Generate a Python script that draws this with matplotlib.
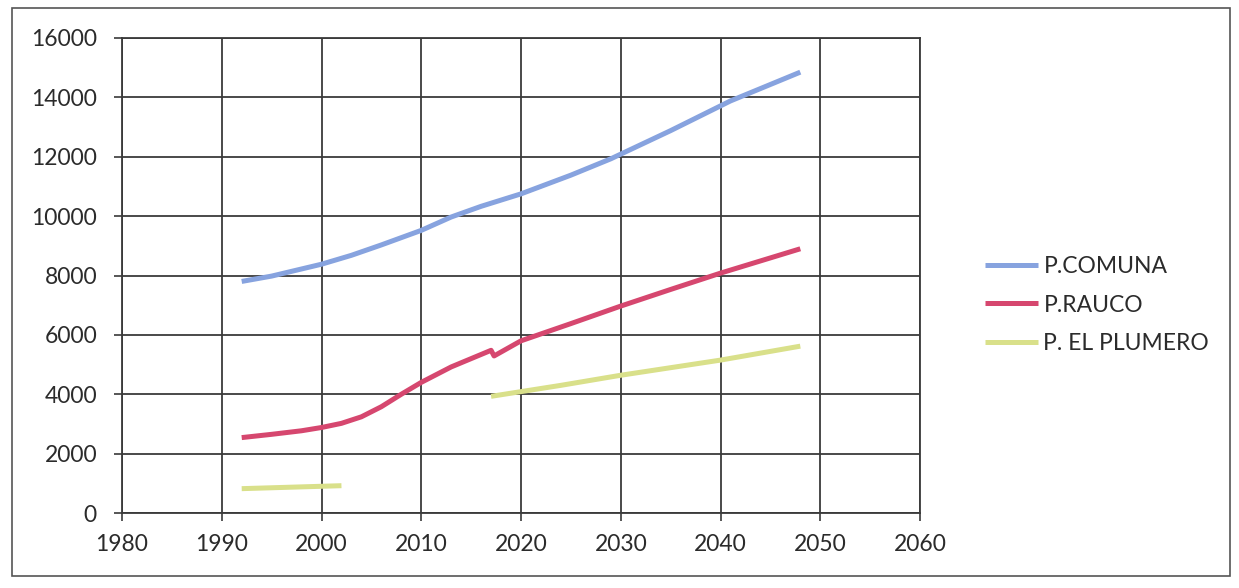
import numpy as np
import matplotlib
matplotlib.use("Agg")
import matplotlib.pyplot as plt
from matplotlib.patches import Rectangle

plt.rcParams['font.family'] = ['Lato', 'DejaVu Sans']

# --- data ---
years_comuna = [1992, 1995, 2000, 2003, 2006, 2010, 2013, 2016, 2020, 2025, 2029, 2035, 2041, 2048]
pop_comuna = [7800, 7980, 8380, 8680, 9030, 9520, 9970, 10330, 10750, 11380, 11930, 12880, 13880, 14850]

years_rauco = [1992, 1995, 1998, 2000, 2002, 2004, 2006, 2008, 2010, 2013, 2017, 2017.3,
               2020, 2025, 2030, 2035, 2040, 2048]
pop_rauco = [2540, 2650, 2770, 2880, 3020, 3240, 3580, 4000, 4400, 4920, 5480, 5290,
             5800, 6380, 6970, 7530, 8080, 8900]

years_plumero = [1992, 2002, np.nan, 2017, 2024, 2030, 2040, 2048]
pop_plumero = [820, 920, np.nan, 3930, 4300, 4640, 5150, 5620]

series_labels = ['P.COMUNA', 'P.RAUCO', 'P. EL PLUMERO']
series_colors = ['#87a3df', '#d6476f', '#d9e08a']

x_ticks = [1980, 1990, 2000, 2010, 2020, 2030, 2040, 2050, 2060]
y_ticks = [0, 2000, 4000, 6000, 8000, 10000, 12000, 14000, 16000]

W, H = 1239, 588
fig = plt.figure(figsize=(W / 100, H / 100), dpi=100)
fig.patch.set_facecolor('white')

# outer chart border
fig.patches.append(Rectangle((12 / W, 1 - 576 / H), (1230 - 12) / W, (576 - 8) / H,
                             transform=fig.transFigure, fill=False,
                             edgecolor='#555555', linewidth=1.2))

ax = fig.add_axes([122 / W, 1 - 513 / H, (920 - 122) / W, (513 - 38) / H])

grid_color = '#3a3a3a'
ax.set_xlim(1980, 2060)
ax.set_ylim(0, 16000)
ax.set_xticks(x_ticks)
ax.set_yticks(y_ticks)
ax.grid(True, color=grid_color, linewidth=1.3)
ax.set_axisbelow(True)
for s in ax.spines.values():
    s.set_color(grid_color)
    s.set_linewidth(1.3)
ax.tick_params(axis='both', direction='out', length=6, width=1.2, color=grid_color,
               labelsize=16.5, labelcolor='#2b2b2b')
ax.tick_params(axis='x', pad=9)
ax.tick_params(axis='y', pad=12)

for xs, ys, lab, col in zip([years_comuna, years_rauco, years_plumero],
                            [pop_comuna, pop_rauco, pop_plumero],
                            series_labels, series_colors):
    ax.plot(xs, ys, color=col, linewidth=3.6, label=lab,
            solid_joinstyle='round', solid_capstyle='butt')

leg = ax.legend(loc='center left', bbox_to_anchor=(985 / W, 1 - 305 / H),
                bbox_transform=fig.transFigure, frameon=False, fontsize=16.5,
                handlelength=2.3, handletextpad=0.25, labelspacing=0.75,
                borderpad=0, borderaxespad=0)
for t in leg.get_texts():
    t.set_color('#2b2b2b')

fig.savefig('out.png', dpi=100, facecolor='white')
